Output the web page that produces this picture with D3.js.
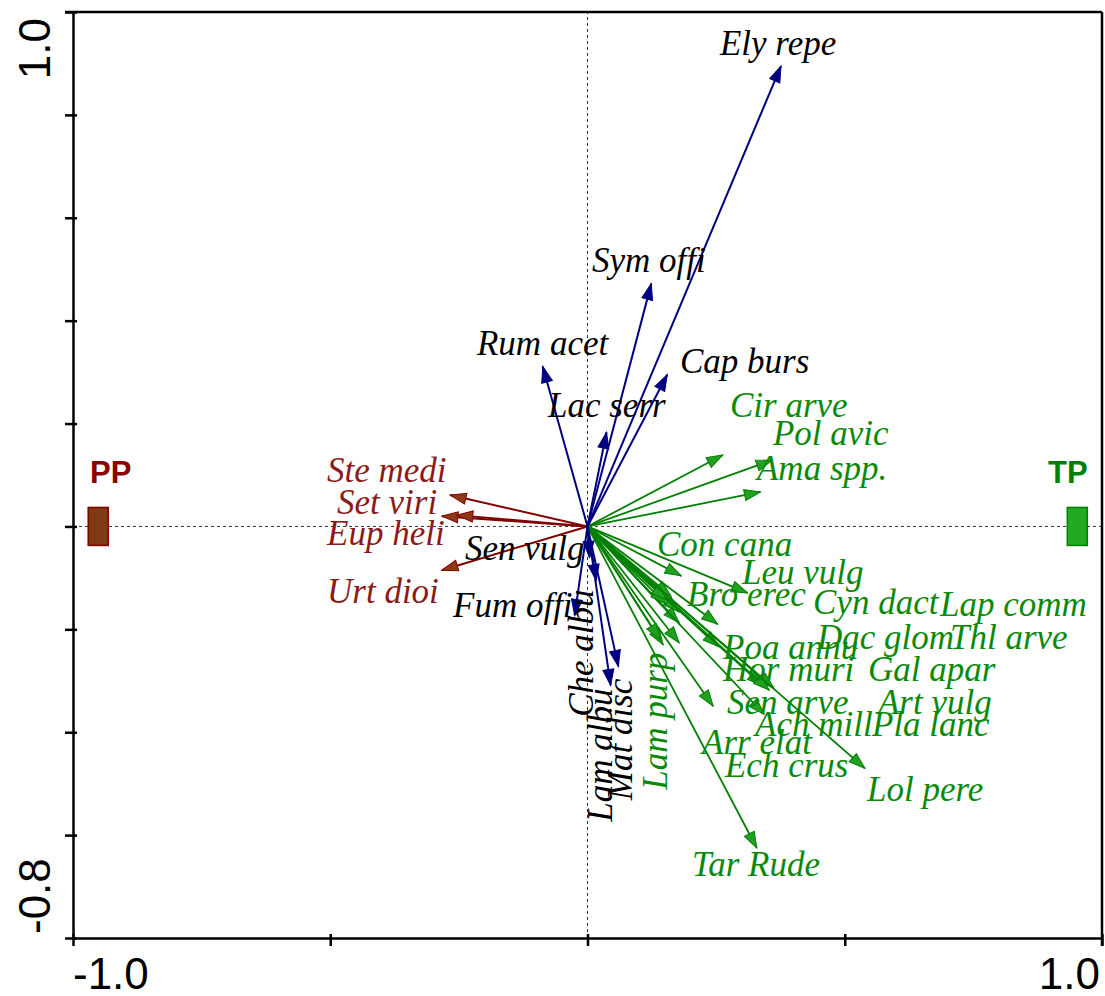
<!DOCTYPE html>
<html>
<head>
<meta charset="utf-8">
<script src="https://cdn.jsdelivr.net/npm/d3@7"></script>
<style>
  html, body { margin: 0; padding: 0; background: #fff; }
  svg { display: block; }
</style>
</head>
<body>
<div id="chart"></div>
<script>
// ---------- DATA ----------
// Blue (navy) species arrows, black labels
const blueNames = ["Ely repe","Sym offi","Rum acet","Cap burs","Lac serr","Sen vulg","Fum offi","Che albu","Lam albu","Mat disc"];
const blueX     = [0.376, 0.124, -0.087, 0.155, 0.037, 0.004, -0.025, 0.017, 0.045, 0.060];
const blueY     = [0.895, 0.472, 0.311, 0.295, 0.183, -0.060, -0.173, -0.105, -0.309, -0.272];
const blueLabX  = [0.2575, 0.0087, -0.2148, 0.1798, -0.0768, -0.2381, -0.2614, 0.0107, 0.0476, 0.0865];
const blueLabY  = [0.916, 0.494, 0.333, 0.298, 0.2127, -0.0649, -0.1757, -0.370, -0.574, -0.532];
const blueLabRot= [false,false,false,false,false,false,false,true,true,true];

// Red (maroon) species arrows
const redNames  = ["Ste medi","Set viri","Eup heli","Urt dioi"];
const redX      = [-0.267, -0.283, -0.254, -0.283];
const redY      = [0.061, 0.020, 0.022, -0.085];
const redLabX   = [-0.5063, -0.4869, -0.5063, -0.5063];
const redLabY   = [0.0863, 0.0241, -0.0362, -0.1489];

// Green species arrows
const greenNames = ["Cir arve","Pol avic","Ama spp.","Con cana","Leu vulg","Bro erec","Cyn dact","Lap comm",
                    "Dac glom","Thl arve","Poa annu","Hor muri","Gal apar","Sen arve","Art vulg","Ach mill",
                    "Pla lanc","Arr elat","Ech crus","Lol pere","Tar Rude","Lam purp"];
const greenX = [0.263, 0.359, 0.336, 0.182, 0.311, 0.162, 0.253, 0.178,
                0.255, 0.362, 0.178, 0.341, 0.343, 0.244, 0.153, 0.178,
                0.353, 0.147, 0.154, 0.539, 0.329, 0.141];
const greenY = [0.139, 0.129, 0.067, -0.096, -0.129, -0.135, -0.190, -0.166,
                -0.234, -0.314, -0.187, -0.310, -0.365, -0.349, -0.151, -0.226,
                -0.318, -0.230, -0.143, -0.470, -0.625, -0.220];
const greenLabX = [0.277, 0.3605, 0.3294, 0.1351, 0.3003, 0.1934, 0.4383, 0.6851,
                   0.4461, 0.7046, 0.2634, 0.2634, 0.5452, 0.2711, 0.5646, 0.3256,
                   0.5530, 0.2226, 0.2672, 0.5432, 0.2031, 0.1545];
const greenLabY = [0.2127, 0.1582, 0.0902, -0.0575, -0.1127, -0.1555, -0.1711, -0.1750,
                   -0.2391, -0.2391, -0.2586, -0.3013, -0.3013, -0.3655, -0.3655, -0.4082,
                   -0.4082, -0.4432, -0.4879, -0.5346, -0.6804, -0.512];
const greenLabRot = greenNames.map(n => n === "Lam purp");

// Centroids (environmental classes)
const classNames = ["PP","TP"];
const classX     = [-0.951, 0.952];
const classY     = [0, 0];
const classLabX  = [-0.967, 0.895];
const classLabY  = [0.084, 0.084];

// Axis ticks
const xTicks = [-1.0, -0.5, 0, 0.5, 1.0];
const yTicks = [-0.8, -0.6, -0.4, -0.2, 0, 0.2, 0.4, 0.6, 0.8, 1.0];
const xTickLabels = ["-1.0", "1.0"];
const yTickLabels = ["-0.8", "1.0"];

// ---------- DRAW ----------
(function () {
const W = 1105, H = 996;
const pL = 73, pR = 1102, pT = 12, pB = 938;

const x = d3.scaleLinear().domain([-1, 1]).range([pL, pR]);
const y = d3.scaleLinear().domain([-0.8, 1.0]).range([pB, pT]);

const svg = d3.select("#chart").append("svg").attr("width", W).attr("height", H);

const defs = svg.append("defs");
function marker(id, fill, stroke) {
  defs.append("marker")
    .attr("id", id)
    .attr("markerUnits", "userSpaceOnUse")
    .attr("viewBox", "-18 -7 20 14")
    .attr("refX", 0).attr("refY", 0)
    .attr("markerWidth", 20).attr("markerHeight", 14)
    .attr("orient", "auto")
    .append("path")
    .attr("d", "M0,0 L-16,-5.5 L-16,5.5 Z")
    .attr("fill", fill).attr("stroke", stroke).attr("stroke-width", 1);
}
marker("hBlue", "#000080", "#000080");
marker("hRed", "#8b3a14", "#800000");
marker("hGreen", "#22a022", "#008000");

// dashed zero lines
svg.append("line").attr("x1", x(-1)).attr("x2", x(1)).attr("y1", y(0)).attr("y2", y(0))
  .attr("stroke", "#333").attr("stroke-width", 1).attr("stroke-dasharray", "3,3");
svg.append("line").attr("x1", x(0)).attr("x2", x(0)).attr("y1", y(-0.8)).attr("y2", y(1))
  .attr("stroke", "#333").attr("stroke-width", 1).attr("stroke-dasharray", "3,3");

// frame
svg.append("line").attr("x1", x(-1) - 8).attr("x2", x(1)).attr("y1", y(1)).attr("y2", y(1))
  .attr("stroke", "#000").attr("stroke-width", 2.5);
svg.append("line").attr("x1", x(1)).attr("x2", x(1)).attr("y1", y(1)).attr("y2", y(-0.8) + 8)
  .attr("stroke", "#000").attr("stroke-width", 2.5);

// axes with d3
const xAxis = d3.axisBottom(x).tickValues(xTicks).tickFormat("").tickSizeInner(8).tickSizeOuter(0);
const yAxis = d3.axisLeft(y).tickValues(yTicks).tickFormat("").tickSizeInner(8).tickSizeOuter(0);
const gx = svg.append("g").attr("transform", `translate(0,${y(-0.8)})`).call(xAxis);
const gy = svg.append("g").attr("transform", `translate(${x(-1)},0)`).call(yAxis);
[gx, gy].forEach(a => {
  a.select(".domain").attr("stroke", "#000").attr("stroke-width", 2.5);
  a.selectAll(".tick line").attr("stroke", "#000").attr("stroke-width", 2.5);
});
gx.selectAll(".tick line").attr("y1", -4);
gy.selectAll(".tick line").attr("x1", 4);

// tick labels
const axFont = "'Liberation Sans', Arial, sans-serif";
svg.append("text").attr("x", x(-1)).attr("y", 989).attr("text-anchor", "start")
  .attr("font-family", axFont).attr("font-size", 44).text(xTickLabels[0]);
svg.append("text").attr("x", x(1) - 2).attr("y", 989).attr("text-anchor", "end")
  .attr("font-family", axFont).attr("font-size", 44).text(xTickLabels[1]);
svg.append("text").attr("transform", `translate(50,${y(-0.8) - 4}) rotate(-90)`).attr("text-anchor", "start")
  .attr("font-family", axFont).attr("font-size", 44).text(yTickLabels[0]);
svg.append("text").attr("transform", `translate(50,${y(1) + 6}) rotate(-90)`).attr("text-anchor", "end")
  .attr("font-family", axFont).attr("font-size", 44).text(yTickLabels[1]);

// arrows
function drawArrows(names, xs, ys, color, markerId, width) {
  svg.append("g").selectAll("line").data(names).join("line")
    .attr("x1", x(0)).attr("y1", y(0))
    .attr("x2", (d, i) => x(xs[i])).attr("y2", (d, i) => y(ys[i]))
    .attr("stroke", color).attr("stroke-width", width)
    .attr("marker-end", `url(#${markerId})`);
}
drawArrows(greenNames, greenX, greenY, "#008000", "hGreen", 1.8);
drawArrows(redNames, redX, redY, "#800000", "hRed", 2);
drawArrows(blueNames, blueX, blueY, "#000080", "hBlue", 2);

// labels
const serif = "'Liberation Serif', 'Times New Roman', serif";
function drawLabels(names, lx, ly, rot, color) {
  svg.append("g").selectAll("text").data(names).join("text")
    .attr("transform", (d, i) => `translate(${x(lx[i])},${y(ly[i])})` + (rot && rot[i] ? " rotate(-90)" : ""))
    .attr("font-family", serif).attr("font-style", "italic").attr("font-size", 35)
    .attr("fill", color).text(d => d);
}
drawLabels(blueNames, blueLabX, blueLabY, blueLabRot, "#000");
drawLabels(redNames, redLabX, redLabY, null, "#8b1a1a");
drawLabels(greenNames, greenLabX, greenLabY, greenLabRot, "#0a8a0a");

// class centroids
const classFill = ["#7f3a14", "#22aa22"];
const classStroke = ["#800000", "#008000"];
const classText = ["#8b0000", "#008000"];
svg.append("g").selectAll("rect").data(classNames).join("rect")
  .attr("x", (d, i) => x(classX[i]) - 10).attr("y", (d, i) => y(classY[i]) - 19)
  .attr("width", 20).attr("height", 38)
  .attr("fill", (d, i) => classFill[i]).attr("stroke", (d, i) => classStroke[i]).attr("stroke-width", 1.5);
svg.append("g").selectAll("text").data(classNames).join("text")
  .attr("x", (d, i) => x(classLabX[i])).attr("y", (d, i) => y(classLabY[i]))
  .attr("font-family", axFont).attr("font-weight", "bold").attr("font-size", 31)
  .attr("fill", (d, i) => classText[i]).text(d => d);
})();
</script>
</body>
</html>
